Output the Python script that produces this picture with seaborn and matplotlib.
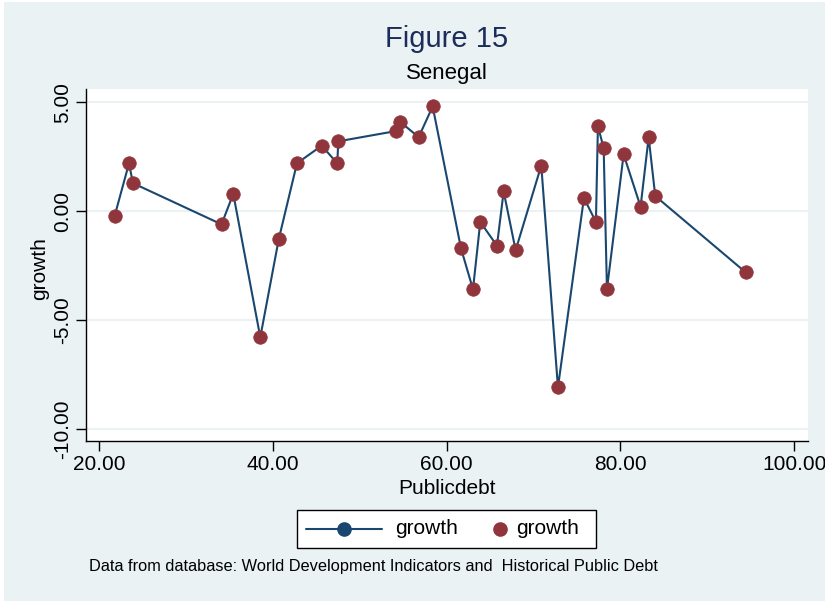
import matplotlib
matplotlib.use("Agg")
import matplotlib.pyplot as plt
from matplotlib.lines import Line2D
from matplotlib.patches import Rectangle
import seaborn as sns
import pandas as pd

# Senegal: public debt (% of GDP) against GDP growth (%)
publicdebt = [21.8, 23.45, 23.9, 34.1, 35.45, 38.56, 40.68, 42.78, 45.63, 47.42,
              47.54, 54.18, 54.64, 56.79, 58.4, 61.66, 63.04, 63.88, 65.8, 66.57,
              67.95, 70.9, 72.82, 75.81, 77.19, 77.42, 78.08, 78.46, 80.38, 82.33,
              83.26, 84.02, 94.42]
growth = [-0.22, 2.19, 1.28, -0.61, 0.79, -5.79, -1.30, 2.19, 3.0, 2.19,
          3.20, 3.67, 4.10, 3.39, 4.80, -1.71, -3.59, -0.50, -1.59, 0.90,
          -1.80, 2.09, -8.09, 0.60, -0.50, 3.90, 2.89, -3.59, 2.60, 0.20,
          3.38, 0.69, -2.81]

x_ticks = [20, 40, 60, 80, 100]
y_ticks = [-10, -5, 0, 5]
legend_labels = ["growth", "growth"]

df = pd.DataFrame({"Publicdebt": publicdebt, "growth": growth})

NAVY = "#1A476F"
MAROON = "#90353B"
BG = "#EAF2F3"
FONT = "Liberation Sans"
W, H = 825, 602

sns.set_theme(style="white")
plt.rcParams["font.family"] = [FONT, "DejaVu Sans"]

fig = plt.figure(figsize=(W / 100, H / 100), dpi=100)
fig.patch.set_facecolor("white")

# light outer panel with a thin white rim
fig.add_artist(Rectangle((4 / W, 1 / H), 1 - 4 / W, 1 - 3 / H,
                         transform=fig.transFigure, facecolor=BG,
                         edgecolor="none", zorder=0))


def px(x, y):
    """pixel position (from top-left) -> figure fraction"""
    return x / W, 1 - y / H


ax = fig.add_axes([86 / W, 1 - 441 / H, (808 - 86) / W, (441 - 89) / H])
ax.set_facecolor("white")

sns.lineplot(data=df, x="Publicdebt", y="growth", ax=ax, color=NAVY,
             linewidth=1.5, sort=True, legend=False)
sns.scatterplot(data=df, x="Publicdebt", y="growth", ax=ax, color=MAROON,
                s=95, edgecolor=MAROON, linewidth=0.5, zorder=3, legend=False)

ax.set_xlim(18.5, 101.6)
ax.set_ylim(-10.55, 5.6)
ax.set_xticks(x_ticks)
ax.set_yticks(y_ticks)
ax.set_xticklabels([f"{v:.2f}" for v in x_ticks])
ax.set_yticklabels([f"{v:.2f}" for v in y_ticks])
ax.tick_params(axis="both", which="both", direction="out", length=7, width=1,
               color="black", labelsize=15, labelcolor="black", pad=3,
               bottom=True, left=True)
for lab in ax.get_yticklabels():
    lab.set_rotation(90)
    lab.set_va("center")

ax.grid(axis="y", color=BG, linewidth=1.5)
ax.grid(axis="x", visible=False)
for side in ["top", "right"]:
    ax.spines[side].set_visible(False)
for side in ["left", "bottom"]:
    ax.spines[side].set_color("black")
    ax.spines[side].set_linewidth(1.0)

ax.set_xlabel("Publicdebt", fontsize=15, color="black")
ax.set_ylabel("growth", fontsize=15, color="black")
ax.xaxis.label.set_va("center")
ax.xaxis.set_label_coords(0.5, (441 - 488) / 352)
ax.yaxis.label.set_va("center")
ax.yaxis.set_label_coords((40 - 86) / 722, 0.49)

cx = (86 + 808) / 2 / W
fig.text(cx, 1 - 39 / H, "Figure 15", ha="center", va="center",
         fontsize=21, color="#1C2D5B")
fig.text(cx, 1 - 73 / H, "Senegal", ha="center", va="center",
         fontsize=16, color="black")

# legend: connected-line key and marker key in a framed box
fig.add_artist(Rectangle(px(297, 548), (596 - 297) / W, (548 - 510) / H,
                         transform=fig.transFigure, facecolor="white",
                         edgecolor="black", linewidth=1.0, zorder=5))
ly = 529
fig.add_artist(Line2D([306 / W, 382 / W], [1 - ly / H] * 2,
                      transform=fig.transFigure, color=NAVY, linewidth=1.5,
                      zorder=6))
fig.add_artist(Line2D([344 / W], [1 - ly / H], transform=fig.transFigure,
                      marker="o", markersize=9.5, color=NAVY, linestyle="none",
                      zorder=7))
fig.add_artist(Line2D([500 / W], [1 - ly / H], transform=fig.transFigure,
                      marker="o", markersize=9.5, color=MAROON,
                      linestyle="none", zorder=7))
fig.text(*px(395, ly), legend_labels[0], ha="left", va="center", fontsize=15,
         color="black", zorder=8)
fig.text(*px(516, ly), legend_labels[1], ha="left", va="center", fontsize=15,
         color="black", zorder=8)

fig.text(*px(89, 567),
         "Data from database: World Development Indicators and  Historical Public Debt",
         ha="left", va="center", fontsize=11.8, color="black")

fig.savefig("out.png", dpi=100, facecolor=fig.get_facecolor())
